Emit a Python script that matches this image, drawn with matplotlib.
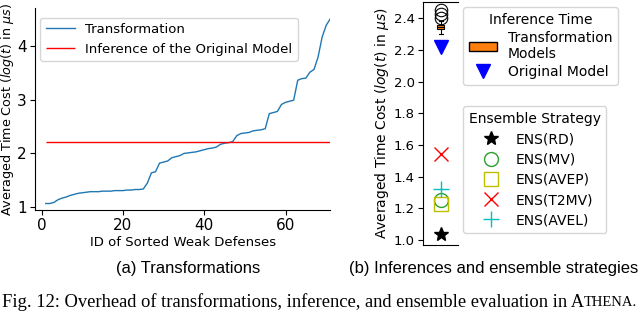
import matplotlib
matplotlib.use("Agg")
import matplotlib.pyplot as plt
from matplotlib.patches import Patch
from matplotlib.lines import Line2D

# (a) tempo de cada transformacao, ordenado
ids = list(range(1, 72))
custo_transf = [1.07, 1.07, 1.09, 1.14, 1.17, 1.19, 1.22, 1.24, 1.26, 1.27,
                1.28, 1.29, 1.29, 1.29, 1.30, 1.30, 1.30, 1.31, 1.31, 1.31,
                1.32, 1.32, 1.33, 1.33, 1.34, 1.45, 1.64, 1.66, 1.82, 1.84,
                1.86, 1.92, 1.94, 1.96, 2.00, 2.01, 2.02, 2.03, 2.05,
                2.07, 2.09, 2.10, 2.12, 2.17, 2.19, 2.20, 2.22, 2.33, 2.37,
                2.38, 2.39, 2.42, 2.43, 2.44, 2.46, 2.74, 2.76, 2.78, 2.91,
                2.95, 2.97, 2.99, 3.36, 3.39, 3.40, 3.51, 3.56, 3.79, 4.16,
                4.38, 4.50]
inferencia_original = 2.22

# (b) inferencia e estrategias de ensemble
box_stats = dict(med=2.345, q1=2.33, q3=2.36, whislo=2.30, whishi=2.38,
                 fliers=[2.40, 2.43, 2.45])
ens_nomes = ['ENS(RD)', 'ENS(MV)', 'ENS(AVEP)', 'ENS(T2MV)', 'ENS(AVEL)']
ens_valores = [1.04, 1.25, 1.23, 1.54, 1.32]

fig = plt.figure(figsize=(6.4, 3.12), dpi=100)

# ---- painel (a)
ax1 = fig.add_axes([0.055, 0.327, 0.461, 0.647])
ax1.plot(ids, custo_transf, color='#1f77b4', lw=1.0, label='Transformation')
ax1.hlines(inferencia_original, 1, 75, color='red', lw=1.0,
           label='Inference of the Original Model')
ax1.set_xlim(-1.6, 71.0)
ax1.set_ylim(0.95, 4.70)
ax1.set_xticks([0, 20, 40, 60])
ax1.set_yticks([1, 2, 3, 4])
ax1.tick_params(labelsize=11, pad=2.5)
ax1.spines['top'].set_visible(False)
ax1.spines['right'].set_visible(False)
ax1.set_xlabel('ID of Sorted Weak Defenses', fontsize=9.5, labelpad=2)
ax1.set_ylabel(r'Averaged Time Cost ($log(t)$ in $\mu s$)', fontsize=9.2)
ax1.yaxis.set_label_coords(-0.066, 0.5)
ax1.legend(loc='upper left', fontsize=9.5, handlelength=2.2,
           bbox_to_anchor=(-0.005, 0.985))

# ---- painel (b)
ax2 = fig.add_axes([0.661, 0.2147, 0.0547, 0.78])
ax2.bxp([box_stats], positions=[0], widths=0.45, patch_artist=True,
        boxprops=dict(facecolor='#ff7f0e', edgecolor='k', lw=0.8),
        medianprops=dict(color='k', lw=0.8),
        whiskerprops=dict(lw=0.8), capprops=dict(lw=0.8),
        flierprops=dict(marker='o', markerfacecolor='none',
                        markeredgecolor='k', markersize=9, mew=0.8))
ax2.plot(0, inferencia_original, 'v', color='blue', markersize=10)

estilos = [dict(marker='*', color='k', mfc='k', ms=10),
           dict(marker='o', color='tab:green', mfc='none', ms=10),
           dict(marker='s', color='y', mfc='none', ms=10),
           dict(marker='x', color='red', ms=10),
           dict(marker='+', color='c', ms=12)]
ens_handles = []
for nome, val, st in zip(ens_nomes, ens_valores, estilos):
    ax2.plot(0, val, linestyle='none', **st)
    ens_handles.append(Line2D([], [], linestyle='none', label=nome, **st))

ax2.set_xlim(-1, 1)
ax2.set_ylim(0.968, 2.505)
ax2.set_xticks([])
ax2.set_yticks([1.0, 1.2, 1.4, 1.6, 1.8, 2.0, 2.2, 2.4])
ax2.tick_params(labelsize=9.5, pad=2.5)
ax2.spines['right'].set_visible(False)
ax2.set_ylabel(r'Averaged Time Cost ($log(t)$ in $\mu s$)', fontsize=10, labelpad=2)

inf_handles = [Patch(facecolor='#ff7f0e', edgecolor='k', label='Transformation\nModels'),
               Line2D([], [], linestyle='none', marker='v', color='blue', ms=10,
                      label='Original Model')]
fig.legend(handles=inf_handles, title='Inference Time', fontsize=10,
           title_fontsize=10, loc='upper left',
           bbox_to_anchor=(0.713, 1.0), handlelength=2.0, labelspacing=0.3)
fig.legend(handles=ens_handles, title='Ensemble Strategy', fontsize=10,
           title_fontsize=10, loc='upper left',
           bbox_to_anchor=(0.713, 0.681), labelspacing=0.45)

# legendas das figuras
fig.text(0.294, 0.141, '(a) Transformations', ha='center', va='center',
         fontsize=11.9, family='Liberation Sans')
fig.text(0.772, 0.141, '(b) Inferences and ensemble strategies', ha='center',
         va='center', fontsize=12, family='Liberation Sans')

t1 = fig.text(0.003, 0.032, 'Fig. 12: Overhead of transformations, inference, and '
              'ensemble evaluation in A', ha='left', va='center',
              fontsize=13.3, family='Liberation Serif')
fig.canvas.draw()
bb = t1.get_window_extent()
x_fim = bb.x1 / fig.bbox.width
fig.text(x_fim, 0.032, 'THENA.', ha='left', va='center', fontsize=10.5,
         family='Liberation Serif')

fig.savefig('out.png', dpi=100)
